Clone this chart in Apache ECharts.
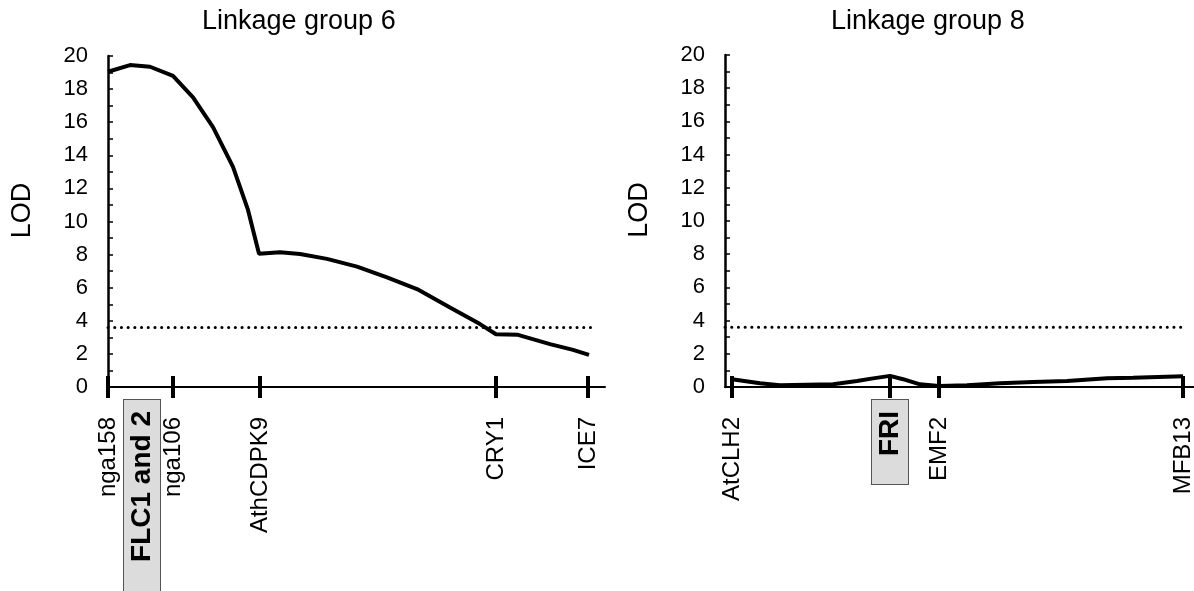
<!DOCTYPE html>
<html><head><meta charset="utf-8">
<script src="https://cdn.jsdelivr.net/npm/echarts@6/dist/echarts.min.js"></script>
<style>html,body{margin:0;padding:0;background:#fff}#c{width:1194px;height:591px}</style>
</head><body><div id="c"></div>
<script>
const titles = ['Linkage group 6', 'Linkage group 8'];
const yName = 'LOD';
const threshold = 3.6;

// Linkage group 6 (x in map units along the axis)
const lg6Markers = ['nga158', 'nga106', 'AthCDPK9', 'CRY1', 'ICE7'];
const lg6MarkerPos = [0, 65, 152, 388, 480];
const lg6Gene = 'FLC1 and 2';
const lg6GenePos = 34;
const lg6Pos = [0, 22, 42, 65, 85, 105, 125, 140, 151, 172, 192, 219, 249, 279, 309, 342, 372, 388, 410, 442, 465, 481];
const lg6Lod = [19.05, 19.45, 19.35, 18.8, 17.5, 15.7, 13.3, 10.7, 8.05, 8.14, 8.04, 7.74, 7.27, 6.63, 5.92, 4.8, 3.8, 3.19, 3.15, 2.59, 2.24, 1.94];

// Linkage group 8
const lg8Markers = ['AtCLH2', 'FRI', 'EMF2', 'MFB13'];
const lg8MarkerPos = [7, 165, 214, 458];
const lg8Gene = 'FRI';
const lg8GenePos = 165;
const lg8Pos = [7, 35, 55, 108, 132, 148, 165, 178, 195, 214, 242, 275, 308, 342, 382, 408, 458];
const lg8Lod = [0.47, 0.22, 0.1, 0.16, 0.36, 0.52, 0.67, 0.47, 0.16, 0.06, 0.1, 0.22, 0.3, 0.36, 0.52, 0.55, 0.65];

const FONT = 'Liberation Sans, Arial, sans-serif';
const zip = (a, b) => a.map((v, i) => [v, b[i]]);

function xAxes(gridIndex, max, tickPos, names, gene, genePos, boxPad) {
  const lookup = {};
  tickPos.forEach((p, i) => lookup[p] = names[i]);
  const plainPos = tickPos.filter((p, i) => names[i] !== gene);
  return [{
    type: 'value', gridIndex, min: 0, max,
    axisLine: {show: true, onZero: false, lineStyle: {color: '#000', width: 2}},
    splitLine: {show: false},
    axisTick: {show: true, customValues: tickPos, length: 11, lineStyle: {color: '#000', width: 4}},
    axisLabel: {
      show: true, customValues: plainPos, rotate: 90, margin: 30,
      fontSize: 24, fontFamily: FONT, color: '#000',
      formatter: v => lookup[v]
    }
  }, {
    type: 'value', gridIndex, min: 0, max, position: 'bottom', offset: 0,
    axisLine: {show: false},
    splitLine: {show: false},
    axisTick: {show: true, inside: true, customValues: tickPos, length: 11, lineStyle: {color: '#000', width: 4}},
    axisLabel: {
      show: true, customValues: [genePos], rotate: 90, margin: 13,
      formatter: () => '{box|' + gene + '}',
      rich: {
        box: {fontSize: 28, fontWeight: 'bold', fontFamily: FONT, color: '#000',
              backgroundColor: '#dcdcdc', borderColor: '#555', borderWidth: 1,
              padding: boxPad, lineHeight: 28}
      }
    }
  }];
}

function yAxis(gridIndex) {
  return {
    type: 'value', gridIndex, min: 0, max: 20, interval: 2,
    name: yName, nameLocation: 'middle', nameGap: 72,
    nameTextStyle: {fontSize: 27, fontFamily: FONT, color: '#000', padding: [0, 0, 0, 22]},
    axisLine: {show: true, lineStyle: {color: '#000', width: 2.5}},
    splitLine: {show: false},
    axisTick: {show: true, inside: true, length: 5, lineStyle: {color: '#000', width: 1.5}},
    minorTick: {show: true, splitNumber: 2, length: 5, lineStyle: {color: '#000', width: 1.5}},
    axisLabel: {fontSize: 22, fontFamily: FONT, color: '#000', margin: 20}
  };
}

const lg6X = xAxes(0, 497, lg6MarkerPos, lg6Markers, lg6Gene, lg6GenePos, [4, 11, 4, 40]);
const lg8X = xAxes(1, 469, lg8MarkerPos, lg8Markers, lg8Gene, lg8GenePos, [4, 11, 4, 28]);

const option = {
  backgroundColor: '#fff',
  animation: false,
  title: [
    {text: titles[0], left: 197, top: 3, textStyle: {fontSize: 27, fontWeight: 'normal', fontFamily: FONT, color: '#000'}},
    {text: titles[1], left: 826, top: 3, textStyle: {fontSize: 27, fontWeight: 'normal', fontFamily: FONT, color: '#000'}}
  ],
  grid: [
    {left: 108, top: 56, width: 497, height: 331, containLabel: false, outerBoundsMode: 'none'},
    {left: 725, top: 55, width: 469, height: 332, containLabel: false, outerBoundsMode: 'none'}
  ],
  xAxis: [lg6X[0], lg6X[1], lg8X[0], lg8X[1]],
  yAxis: [yAxis(0), yAxis(1)],
  series: [
    {type: 'line', xAxisIndex: 0, yAxisIndex: 0, data: [[0, threshold], [483, threshold]], symbol: 'none',
     lineStyle: {color: '#000', width: 3, type: [0.1, 6.6], cap: 'round'}, z: 1},
    {type: 'line', xAxisIndex: 0, yAxisIndex: 0, data: zip(lg6Pos, lg6Lod), symbol: 'none',
     lineStyle: {color: '#000', width: 4}, z: 3},
    {type: 'line', xAxisIndex: 2, yAxisIndex: 1, data: [[0, threshold], [458, threshold]], symbol: 'none',
     lineStyle: {color: '#000', width: 3, type: [0.1, 6.6], cap: 'round'}, z: 1},
    {type: 'line', xAxisIndex: 2, yAxisIndex: 1, data: zip(lg8Pos, lg8Lod), symbol: 'none',
     lineStyle: {color: '#000', width: 4}, z: 3}
  ]
};
const chart = echarts.init(document.getElementById('c'), null, {renderer: 'canvas'});
chart.setOption(option);
</script></body></html>
